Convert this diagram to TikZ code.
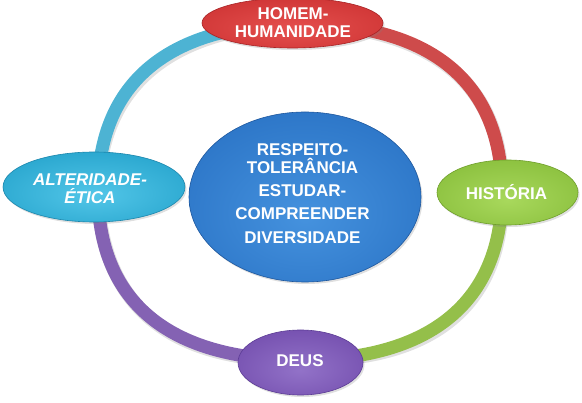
\documentclass[tikz,border=0pt]{standalone}
\usepackage{fontspec}
\setmainfont{Liberation Sans}
\usetikzlibrary{shapes.geometric,shadows}
\definecolor{redhi}{HTML}{E5504E}\definecolor{redmid}{HTML}{D03636}\definecolor{redlo}{HTML}{A82224}
\definecolor{cyanhi}{HTML}{52C6E8}\definecolor{cyanmid}{HTML}{2AA7CF}\definecolor{cyanlo}{HTML}{1B86AC}
\definecolor{greenhi}{HTML}{A8D85C}\definecolor{greenmid}{HTML}{8CC13F}\definecolor{greenlo}{HTML}{6E9E2A}
\definecolor{purphi}{HTML}{9272C8}\definecolor{purpmid}{HTML}{7651B0}\definecolor{purplo}{HTML}{5C3C95}
\definecolor{bluehi}{HTML}{4592DE}\definecolor{bluemid}{HTML}{2B74C6}\definecolor{bluelo}{HTML}{1D579E}
\definecolor{ringred}{HTML}{CE4B4B}\definecolor{ringgreen}{HTML}{94BF4A}
\definecolor{ringpurp}{HTML}{8462B3}\definecolor{ringcyan}{HTML}{4DB3D3}
\pgfdeclareradialshading{shred}{\pgfpoint{0bp}{-6bp}}{color(0bp)=(redhi); color(30bp)=(redmid); color(50bp)=(redlo); color(75bp)=(redlo)}
\pgfdeclareradialshading{shcyan}{\pgfpoint{0bp}{-6bp}}{color(0bp)=(cyanhi); color(30bp)=(cyanmid); color(50bp)=(cyanlo); color(75bp)=(cyanlo)}
\pgfdeclareradialshading{shgreen}{\pgfpoint{0bp}{-6bp}}{color(0bp)=(greenhi); color(30bp)=(greenmid); color(50bp)=(greenlo); color(75bp)=(greenlo)}
\pgfdeclareradialshading{shpurp}{\pgfpoint{0bp}{-6bp}}{color(0bp)=(purphi); color(30bp)=(purpmid); color(50bp)=(purplo); color(75bp)=(purplo)}
\pgfdeclareradialshading{shblue}{\pgfpoint{0bp}{-6bp}}{color(0bp)=(bluehi); color(32bp)=(bluemid); color(50bp)=(bluelo); color(75bp)=(bluelo)}
\tikzset{
  blob/.style={ellipse, inner sep=0pt, line width=0.6pt,
    drop shadow={opacity=0.25, shadow xshift=1.5pt, shadow yshift=-2pt}},
  ringseg/.style={line width=13pt},
  ringshadow/.style={line width=14pt, draw=black, opacity=0.12},
  lbl/.style={text=white, font=\fontsize{17}{18}\selectfont\bfseries, align=center, inner sep=0pt},
}
\begin{document}
\begin{tikzpicture}[x=1pt,y=-1pt]
\useasboundingbox (0,0) rectangle (582,403);
% ring points
\coordinate (pT) at (300,24);
\coordinate (pR) at (502,192);
\coordinate (pB) at (300,360);
\coordinate (pL) at (98,192);
% ring shadow
\begin{scope}[shift={(2,3)}]
\draw[ringshadow] (pT) .. controls (431.3,24) and (502,82.8) .. (pR)
  .. controls (502,301.2) and (431.3,360) .. (pB)
  .. controls (168.7,360) and (98,301.2) .. (pL)
  .. controls (98,82.8) and (168.7,24) .. (pT);
\end{scope}
% ring segments
\draw[ringseg, draw=ringred] (pT) .. controls (431.3,24) and (502,82.8) .. (pR);
\draw[ringseg, draw=ringgreen] (pR) .. controls (502,301.2) and (431.3,360) .. (pB);
\draw[ringseg, draw=ringpurp] (pB) .. controls (168.7,360) and (98,301.2) .. (pL);
\draw[ringseg, draw=ringcyan] (pL) .. controls (98,82.8) and (168.7,24) .. (pT);
% nodes
\node[blob, draw=bluelo, shading=shblue, minimum width=232pt, minimum height=170pt] (centre) at (305,197) {};
\node[blob, draw=redlo, shading=shred, minimum width=181pt, minimum height=50pt] (homem) at (292.5,23) {};
\node[blob, draw=greenlo, shading=shgreen, minimum width=141pt, minimum height=65pt] (historia) at (507.5,192.5) {};
\node[blob, draw=purplo, shading=shpurp, minimum width=125pt, minimum height=65pt] (deus) at (300.5,362.5) {};
\node[blob, draw=cyanlo, shading=shcyan, minimum width=182pt, minimum height=70pt] (alteridade) at (94,187) {};
% labels
\node[lbl] (centretext) at (302.5,193.9) {RESPEITO-\\TOLERÂNCIA\\[5pt]ESTUDAR-\\[5pt]COMPREENDER\\[6pt]DIVERSIDADE};
\node[lbl] (homemtext) at (293,22.2) {HOMEM-\\HUMANIDADE};
\node[lbl, font=\fontsize{17}{17.5}\selectfont\bfseries\itshape] (alteridadetext) at (90,188.5) {ALTERIDADE-\\ÉTICA};
\node[lbl, anchor=base] (historiatext) at (506.5,199.3) {HISTÓRIA};
\node[lbl, anchor=base] (deustext) at (300,366.7) {DEUS};
\end{tikzpicture}
\end{document}
